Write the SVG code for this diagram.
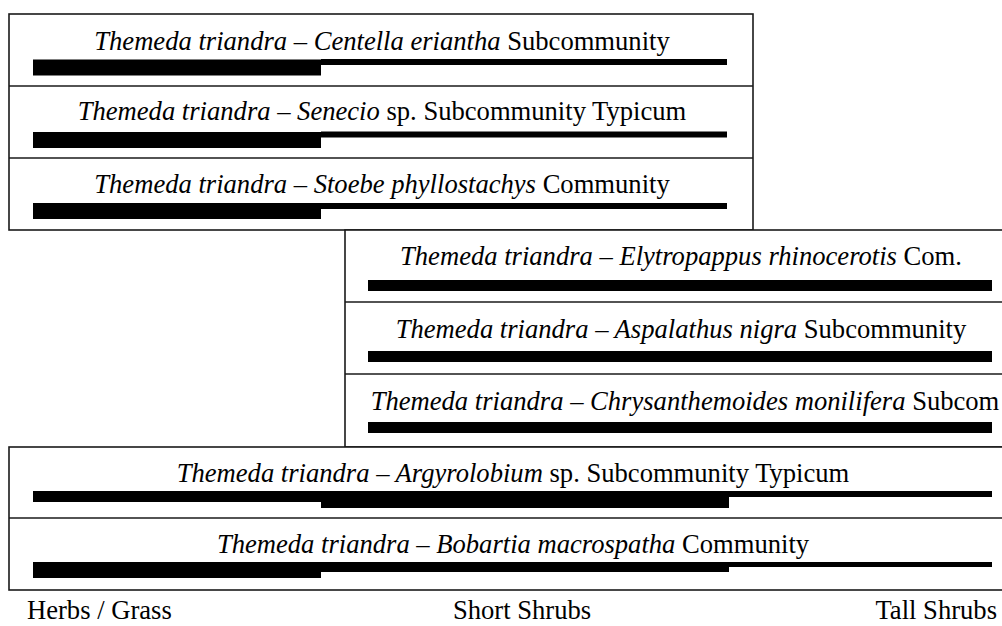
<svg xmlns="http://www.w3.org/2000/svg" width="1002" height="626" viewBox="0 0 1002 626">
<defs>
<style>
.b{fill:#000}
.box{fill:#fff;stroke:#1a1a1a;stroke-width:1.6}
.sep{stroke:#1a1a1a;stroke-width:1.6}
.lbl{font-family:"Liberation Serif","Times New Roman",serif;font-size:26.6px;fill:#000}
</style>
</defs>
<rect width="1002" height="626" fill="#fff"/>
<g id="top-group">
<rect class="box" x="9" y="14" width="744" height="216"/>
</g>
<g id="mid-group">
<rect class="box" x="345" y="230" width="680" height="217"/>
</g>
<g id="bot-group">
<rect class="box" x="9" y="447" width="1010" height="143"/>
</g>
<g id="connectors">
<line class="sep" x1="9" y1="86" x2="753" y2="86"/>
<line class="sep" x1="9" y1="158" x2="753" y2="158"/>
<line class="sep" x1="345" y1="302" x2="1002" y2="302"/>
<line class="sep" x1="345" y1="374" x2="1002" y2="374"/>
<line class="sep" x1="9" y1="518" x2="1002" y2="518"/>
</g>
<g id="row-centella">
<text class="lbl" x="382" y="50" text-anchor="middle"><tspan font-style="italic">Themeda triandra – Centella eriantha</tspan> Subcommunity</text>
<rect class="b" x="33" y="59.5" width="288" height="16"/>
<rect class="b" x="321" y="59" width="406" height="6"/>
</g>
<g id="row-senecio">
<text class="lbl" x="382" y="120" text-anchor="middle"><tspan font-style="italic">Themeda triandra – Senecio</tspan> sp. Subcommunity Typicum</text>
<rect class="b" x="33" y="132" width="288" height="16"/>
<rect class="b" x="321" y="131.5" width="406" height="6"/>
</g>
<g id="row-stoebe">
<text class="lbl" x="382" y="193" text-anchor="middle"><tspan font-style="italic">Themeda triandra – Stoebe phyllostachys</tspan> Community</text>
<rect class="b" x="33" y="203" width="288" height="16"/>
<rect class="b" x="321" y="203" width="406" height="6"/>
</g>
<g id="row-elytropappus">
<text class="lbl" x="681" y="265" text-anchor="middle"><tspan font-style="italic">Themeda triandra – Elytropappus rhinocerotis</tspan> Com.</text>
<rect class="b" x="368" y="280" width="624" height="11"/>
</g>
<g id="row-aspalathus">
<text class="lbl" x="681" y="338" text-anchor="middle"><tspan font-style="italic">Themeda triandra – Aspalathus nigra</tspan> Subcommunity</text>
<rect class="b" x="368" y="351" width="624" height="11"/>
</g>
<g id="row-chrysanthemoides">
<text class="lbl" x="685" y="410" text-anchor="middle"><tspan font-style="italic">Themeda triandra – Chrysanthemoides monilifera</tspan> Subcom</text>
<rect class="b" x="368" y="422" width="624" height="11"/>
</g>
<g id="row-argyrolobium">
<text class="lbl" x="513" y="482" text-anchor="middle"><tspan font-style="italic">Themeda triandra – Argyrolobium</tspan> sp. Subcommunity Typicum</text>
<rect class="b" x="33" y="491" width="288" height="11"/>
<rect class="b" x="321" y="491" width="408" height="17"/>
<rect class="b" x="729" y="491" width="263" height="6"/>
</g>
<g id="row-bobartia">
<text class="lbl" x="513" y="553" text-anchor="middle"><tspan font-style="italic">Themeda triandra – Bobartia macrospatha</tspan> Community</text>
<rect class="b" x="33" y="562" width="288" height="16"/>
<rect class="b" x="321" y="562" width="408" height="10"/>
<rect class="b" x="729" y="562" width="263" height="5"/>
</g>
<g id="axis">
<text class="lbl" x="27" y="619">Herbs / Grass</text>
<text class="lbl" x="522" y="619" text-anchor="middle">Short Shrubs</text>
<text class="lbl" x="997" y="619" text-anchor="end">Tall Shrubs</text>
</g>
</svg>
